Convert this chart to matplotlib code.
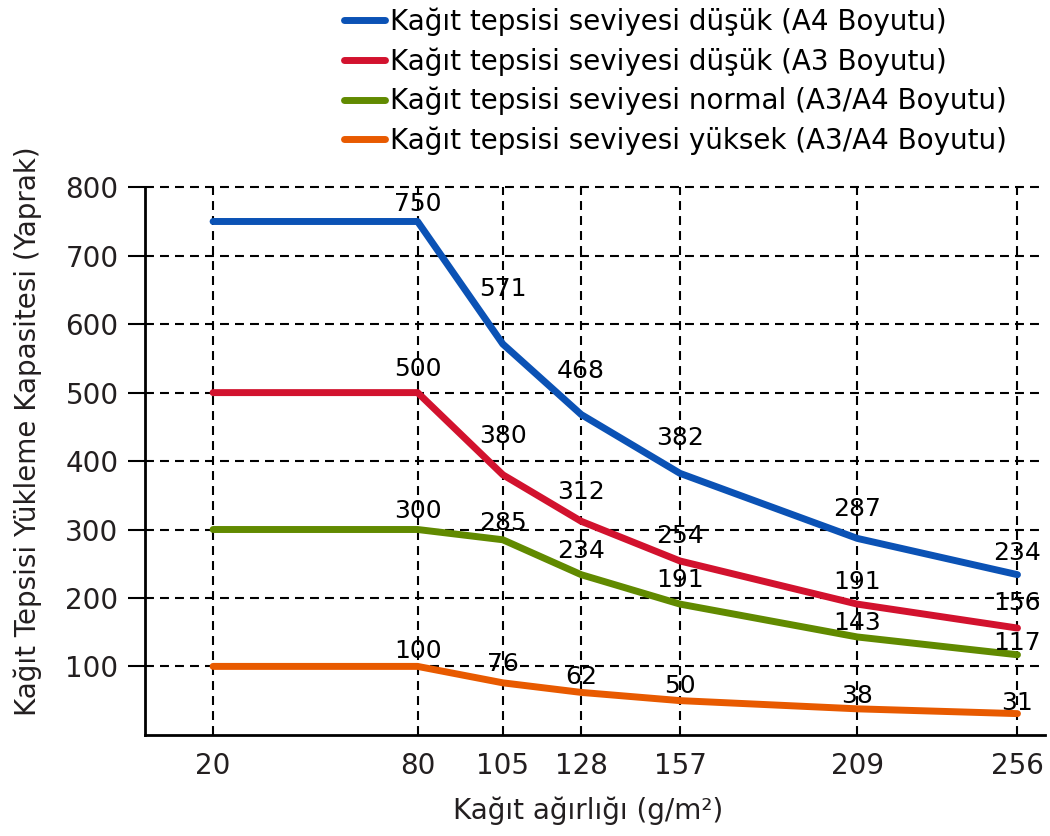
import matplotlib
matplotlib.use("Agg")
import matplotlib.pyplot as plt

# paper weight (g/m2) and tray capacities (sheets)
weights = [20, 80, 105, 128, 157, 209, 256]
low_a4 = [750, 750, 571, 468, 382, 287, 234]
low_a3 = [500, 500, 380, 312, 254, 191, 156]
normal = [300, 300, 285, 234, 191, 143, 117]
high = [100, 100, 76, 62, 50, 38, 31]
y_ticks = [100, 200, 300, 400, 500, 600, 700, 800]

names = [
    "Kağıt tepsisi seviyesi düşük (A4 Boyutu)",
    "Kağıt tepsisi seviyesi düşük (A3 Boyutu)",
    "Kağıt tepsisi seviyesi normal (A3/A4 Boyutu)",
    "Kağıt tepsisi seviyesi yüksek (A3/A4 Boyutu)",
]
colors = ["#0b52b5", "#d2122e", "#618a00", "#e85a00"]

# label lift above each point, in pixels (first point has no label)
label_dy = [
    [0, 17, 55, 44, 35, 29, 22],
    [0, 24, 39, 29, 25, 22, 25],
    [0, 19, 17, 24, 24, 14, 12],
    [0, 15, 19, 15, 15, 13, 11],
]

plt.rcParams["font.family"] = ["DejaVu Sans"]
txt = "#231f20"

fig = plt.figure(figsize=(10.5, 8.36), dpi=100)
ax = fig.add_axes([0.138, 0.121, 0.857, 0.655])

series = [low_a4, low_a3, normal, high]
handles = []
for vals, col, name, dys in zip(series, colors, names, label_dy):
    ln, = ax.plot(weights, vals, color=col, lw=5, solid_capstyle="round",
                  solid_joinstyle="round", zorder=3, label=name)
    handles.append(ln)
    for x, v, dy in list(zip(weights, vals, dys))[1:]:
        ax.annotate(str(v), (x, v), xytext=(0, dy), textcoords="offset pixels",
                    ha="center", va="center", fontsize=18, color="black", zorder=4)

ax.set_xlim(0, 264)
ax.set_ylim(0, 800)
ax.set_xticks(weights)
ax.set_yticks(y_ticks)
ax.tick_params(axis="x", length=0, pad=12, labelsize=20, labelcolor=txt)
ax.tick_params(axis="y", length=12, width=1.5, pad=7, labelsize=20, labelcolor=txt)

ax.grid(True, color="black", lw=1.5, linestyle=(0, (4.3, 2.9)), zorder=1)
for gl in ax.get_ygridlines():
    gl.set_clip_on(False)

for s in ["top", "right"]:
    ax.spines[s].set_visible(False)
for s in ["left", "bottom"]:
    ax.spines[s].set_linewidth(2)

ax.set_ylabel("Kağıt Tepsisi Yükleme Kapasitesi (Yaprak)", fontsize=20, color=txt)
ax.yaxis.set_label_coords(-0.114, 0.555)
ax.set_xlabel("Kağıt ağırlığı (g/m²)", fontsize=20, color=txt)
ax.xaxis.set_label_coords(0.492, -0.113)

fig.legend(handles=handles, loc="upper left", bbox_to_anchor=(0.328, 0.991),
           frameon=False, fontsize=20, handlelength=1.45, handletextpad=0.2,
           labelspacing=0.4, borderpad=0, borderaxespad=0)

fig.savefig("out.png", dpi=100)
